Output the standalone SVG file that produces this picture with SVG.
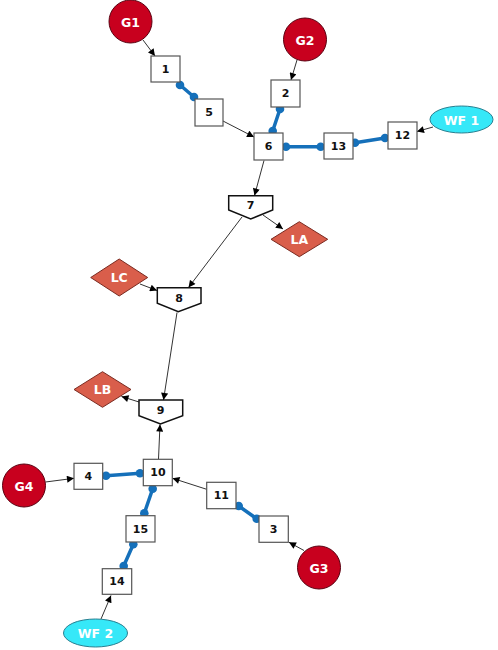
<svg xmlns="http://www.w3.org/2000/svg" width="498" height="650" viewBox="0 0 498 650">
<style>
.bg{fill:#fff}
.box{fill:#fff;stroke:#555;stroke-width:1.2}
.pent{fill:#fff;stroke:#111;stroke-width:1.5}
.gen{fill:#C8001E;stroke:#5a0010;stroke-width:1}
.load{fill:#D95E4B;stroke:#7a2a20;stroke-width:1}
.wf{fill:#36E8F8;stroke:#2a7f90;stroke-width:1}
.edge{stroke:#333;stroke-width:1;fill:none;marker-end:url(#ah)}
.line{stroke:#1570BA;stroke-width:3.5;fill:none;stroke-linecap:round}
.dot{fill:#1570BA}
.t{font-family:"DejaVu Sans",Verdana,sans-serif;font-weight:bold;font-size:11px;text-anchor:middle;dominant-baseline:central;fill:#111}
.w{font-family:"DejaVu Sans",Verdana,sans-serif;font-weight:bold;font-size:12.5px;text-anchor:middle;dominant-baseline:central;fill:#fff}
</style>
<defs>
<marker id="ah" viewBox="0 0 10 10" refX="10" refY="5" markerWidth="8" markerHeight="7" markerUnits="userSpaceOnUse" orient="auto">
<path d="M0,0 L10,5 L0,10 z" fill="#000"/>
</marker>
</defs>
<rect class="bg" x="0" y="0" width="498" height="650"/>
<g id="connectors">
<line class="edge" x1="143" y1="40" x2="155" y2="56"/>
<line class="edge" x1="297" y1="60" x2="291" y2="80"/>
<line class="edge" x1="223" y1="121" x2="254" y2="137"/>
<line class="edge" x1="433" y1="127" x2="417" y2="131.5"/>
<line class="edge" x1="264" y1="160.5" x2="254.5" y2="195.5"/>
<line class="edge" x1="263" y1="215" x2="283" y2="229"/>
<line class="edge" x1="242" y1="217" x2="188.5" y2="287.5"/>
<line class="edge" x1="140" y1="284" x2="157" y2="290.5"/>
<line class="edge" x1="177" y1="312.5" x2="163.5" y2="400"/>
<line class="edge" x1="139" y1="402" x2="121.5" y2="396.5"/>
<line class="edge" x1="158.5" y1="459" x2="160" y2="424.5"/>
<line class="edge" x1="45.5" y1="482" x2="74" y2="478.3"/>
<line class="edge" x1="206.7" y1="489.3" x2="172.5" y2="478.3"/>
<line class="edge" x1="304" y1="550.5" x2="289" y2="542.3"/>
<line class="edge" x1="101" y1="619" x2="111" y2="595.5"/>
<line class="line" x1="180" y1="85" x2="194" y2="97"/>
<circle class="dot" cx="180" cy="85" r="4.3"/><circle class="dot" cx="194" cy="97" r="4.3"/>
<line class="line" x1="280" y1="109" x2="272.7" y2="131"/>
<circle class="dot" cx="280" cy="109" r="4.3"/><circle class="dot" cx="272.7" cy="131" r="4.3"/>
<line class="line" x1="286" y1="146.7" x2="320.7" y2="146.7"/>
<circle class="dot" cx="286" cy="146.7" r="4.3"/><circle class="dot" cx="320.7" cy="146.7" r="4.3"/>
<line class="line" x1="355" y1="142.7" x2="385" y2="138"/>
<circle class="dot" cx="355" cy="142.7" r="4.3"/><circle class="dot" cx="385" cy="138" r="4.3"/>
<line class="line" x1="106" y1="475.7" x2="140" y2="473.3"/>
<circle class="dot" cx="106" cy="475.7" r="4.3"/><circle class="dot" cx="140" cy="473.3" r="4.3"/>
<line class="line" x1="152.7" y1="488.7" x2="144.3" y2="513.3"/>
<circle class="dot" cx="152.7" cy="488.7" r="4.3"/><circle class="dot" cx="144.3" cy="513.3" r="4.3"/>
<line class="line" x1="133.3" y1="544.3" x2="123.7" y2="566"/>
<circle class="dot" cx="133.3" cy="544.3" r="4.3"/><circle class="dot" cx="123.7" cy="566" r="4.3"/>
<line class="line" x1="238.7" y1="506" x2="256.7" y2="518.7"/>
<circle class="dot" cx="238.7" cy="506" r="4.3"/><circle class="dot" cx="256.7" cy="518.7" r="4.3"/>
</g>
<g id="G1"><circle class="gen" cx="130.5" cy="21.5" r="21.5"/><text class="w" x="130.5" y="22">G1</text></g>
<g id="G2"><circle class="gen" cx="305" cy="39.5" r="21.5"/><text class="w" x="305" y="40">G2</text></g>
<g id="G3"><circle class="gen" cx="319" cy="567.5" r="21.5"/><text class="w" x="319" y="568">G3</text></g>
<g id="G4"><circle class="gen" cx="24" cy="485.5" r="21.5"/><text class="w" x="24" y="486">G4</text></g>
<g id="WF1"><ellipse class="wf" cx="461.5" cy="119.5" rx="31.5" ry="13.5"/><text class="w" x="461.5" y="120">WF 1</text></g>
<g id="WF2"><ellipse class="wf" cx="95.5" cy="633" rx="32" ry="14"/><text class="w" x="95.5" y="633.5">WF 2</text></g>
<g id="LA"><path class="load" d="M271,239.3 L299.3,221.7 L327.7,239.3 L299.3,256.7 Z"/><text class="w" x="299.3" y="239.5">LA</text></g>
<g id="LB"><path class="load" d="M74,389.5 L102.5,371.7 L131,389.5 L102.5,407.3 Z"/><text class="w" x="102.5" y="389.5">LB</text></g>
<g id="LC"><path class="load" d="M90.7,277.5 L119.2,259 L147.7,277.5 L119.2,296 Z"/><text class="w" x="119.2" y="277.5">LC</text></g>
<g id="n1"><rect class="box" x="151" y="56" width="29" height="26"/><text class="t" x="165.5" y="69">1</text></g>
<g id="n2"><rect class="box" x="271" y="80" width="29" height="27"/><text class="t" x="285.5" y="93.5">2</text></g>
<g id="n3"><rect class="box" x="259" y="516" width="29.3" height="26.3"/><text class="t" x="273.7" y="529">3</text></g>
<g id="n4"><rect class="box" x="74" y="463.3" width="28.7" height="26"/><text class="t" x="88.3" y="476.3">4</text></g>
<g id="n5"><rect class="box" x="195" y="99" width="28" height="27"/><text class="t" x="209" y="112.5">5</text></g>
<g id="n6"><rect class="box" x="254" y="133" width="29" height="27"/><text class="t" x="268.5" y="146.5">6</text></g>
<g id="n7"><path class="pent" d="M228.7,195.7 L272.7,195.7 L272.7,210 L250.7,219 L228.7,210 Z"/><text class="t" x="250.7" y="205">7</text></g>
<g id="n8"><path class="pent" d="M157.3,287.7 L201,287.7 L201,303.3 L178.3,311.7 L157.3,303.3 Z"/><text class="t" x="179" y="298">8</text></g>
<g id="n9"><path class="pent" d="M139,400 L182.7,400 L182.7,415.7 L160.5,424 L139,415.7 Z"/><text class="t" x="160.5" y="410">9</text></g>
<g id="n10"><rect class="box" x="143.3" y="459.3" width="29" height="26.4"/><text class="t" x="158" y="472.5">10</text></g>
<g id="n11"><rect class="box" x="206.7" y="482.3" width="29.3" height="26.4"/><text class="t" x="221.3" y="495.5">11</text></g>
<g id="n12"><rect class="box" x="388" y="122" width="29" height="27"/><text class="t" x="402.5" y="135.5">12</text></g>
<g id="n13"><rect class="box" x="324" y="133" width="29" height="26"/><text class="t" x="338.5" y="146">13</text></g>
<g id="n14"><rect class="box" x="102.3" y="568.7" width="29.4" height="25.6"/><text class="t" x="117" y="581.5">14</text></g>
<g id="n15"><rect class="box" x="126" y="515.7" width="29" height="26.3"/><text class="t" x="140.5" y="529">15</text></g>
</svg>
